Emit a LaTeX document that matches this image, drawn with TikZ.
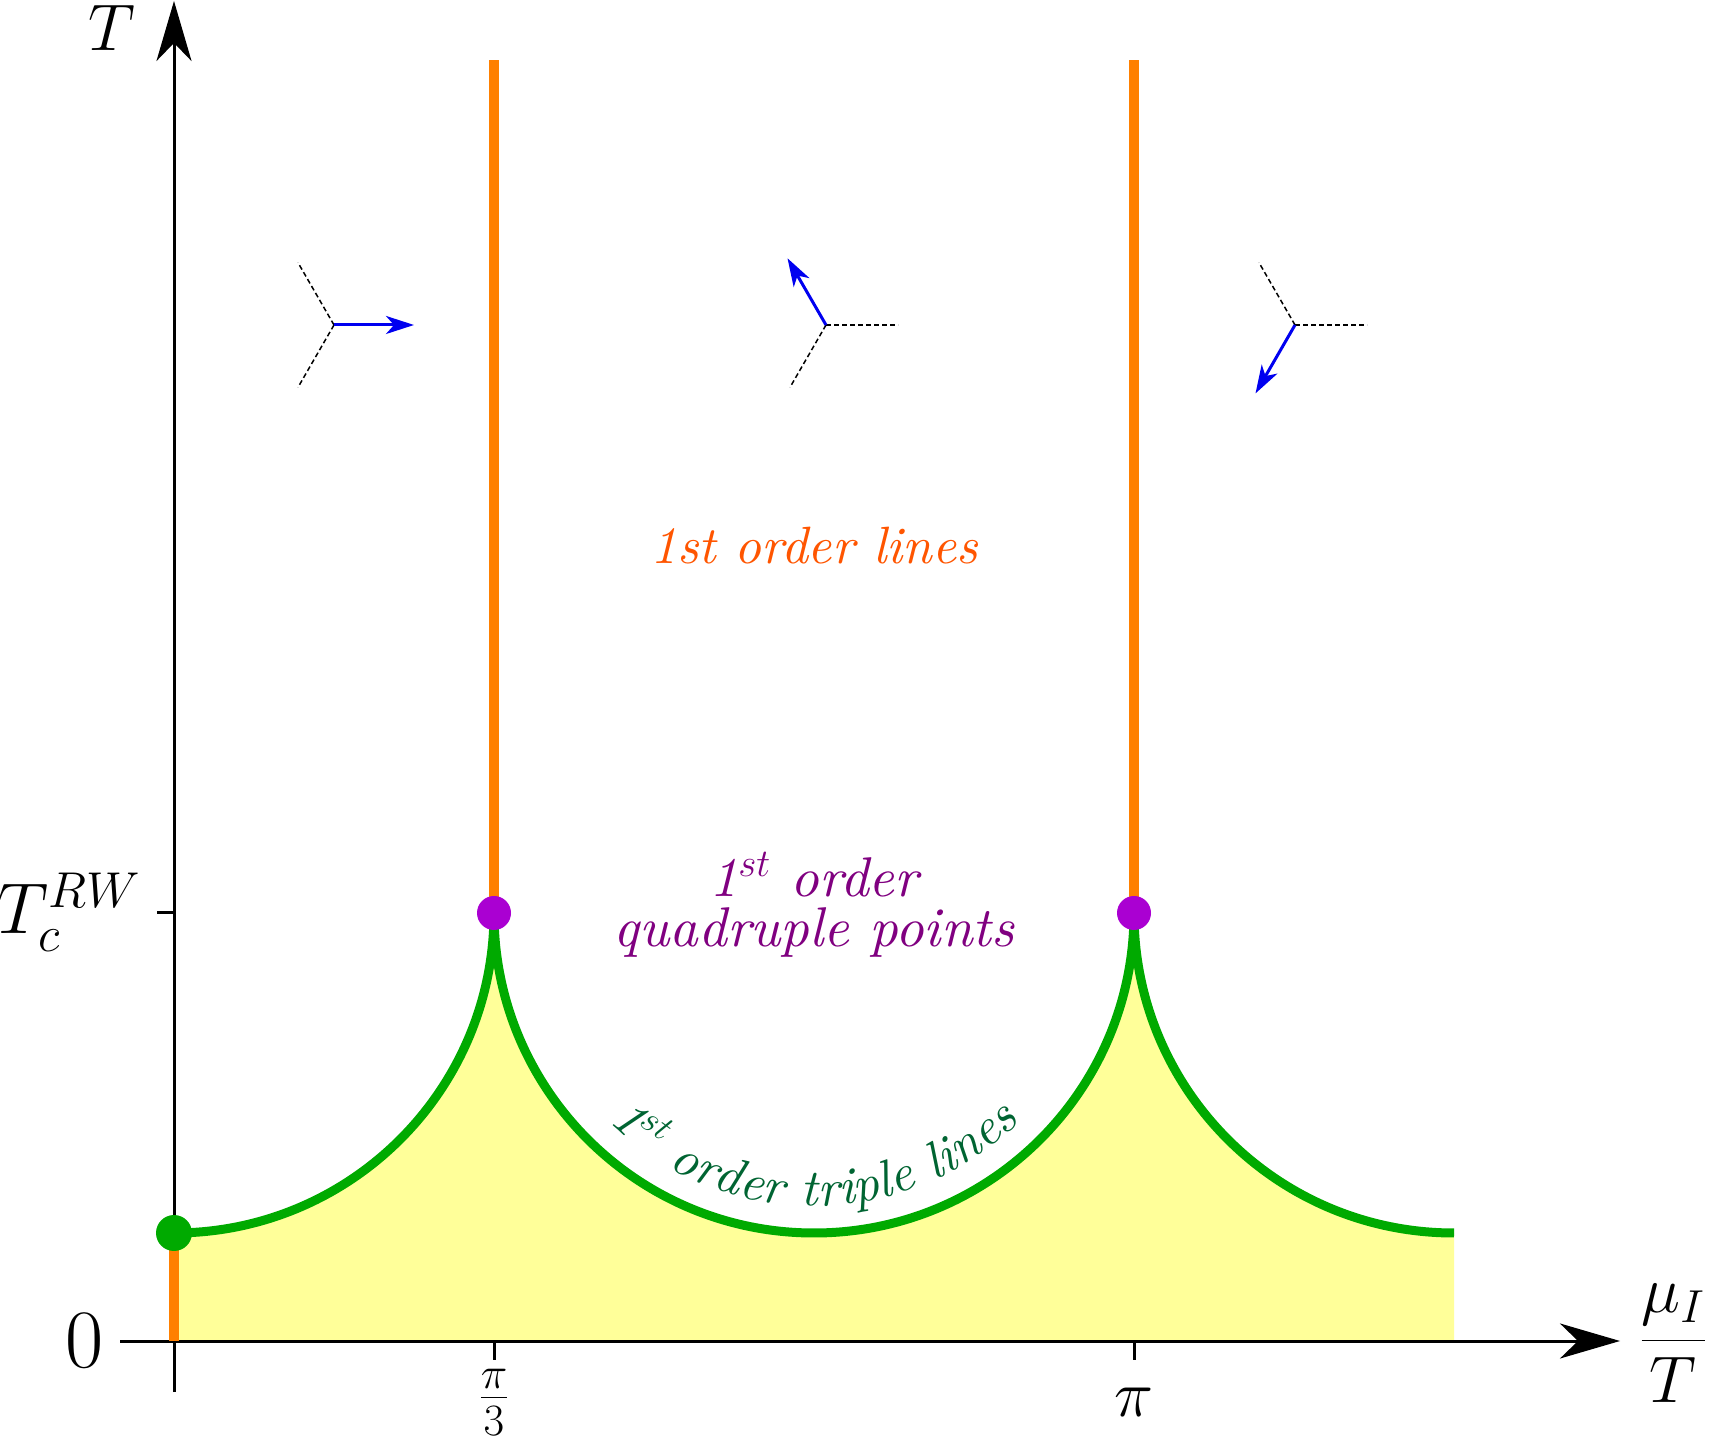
\RequirePackage{fix-cm}
\documentclass[tikz,border=0pt]{standalone}
\usepackage{fontspec}
\newfontface\lmtenit{lmroman10-italic.otf}
\usetikzlibrary{arrows.meta,decorations.text}
\definecolor{myorange}{RGB}{255,128,0}
\definecolor{txtorange}{RGB}{255,85,0}
\definecolor{mygreen}{RGB}{0,170,0}
\definecolor{dkgreen}{RGB}{0,100,50}
\definecolor{mypurple}{RGB}{170,0,210}
\definecolor{txtpurple}{RGB}{128,0,128}
\definecolor{myyellow}{RGB}{255,255,153}
\definecolor{myblue}{RGB}{0,0,240}
\begin{document}
\begin{tikzpicture}[x=1pt,y=1pt,
  axisline/.style={line width=3pt,-{Stealth[length=60pt,width=35pt,inset=18pt]}},
  tickline/.style={line width=3pt},
  orangeline/.style={line width=10pt,myorange},
  greenline/.style={line width=9pt,mygreen},
  dashline/.style={line width=1.5pt,dash pattern=on 5pt off 3pt},
  bluearrow/.style={line width=3pt,myblue,-{Stealth[length=28pt,width=18pt,inset=8pt]}},
  mathlbl/.style={font=\fontsize{66}{72}\selectfont,inner sep=0pt},
  phaselbl/.style={inner sep=0pt,align=center}
]
\useasboundingbox (0,0) rectangle (1718,1443);
% coordinates
\coordinate (O) at (174,102);
\coordinate (ybot) at (174,51);
\coordinate (ytop) at (174,1442);
\coordinate (xleft) at (120,102);
\coordinate (xright) at (1620,102);
\coordinate (G) at (174,210);
\coordinate (Q1) at (494,530);
\coordinate (Q2) at (1134,530);
\coordinate (Q1top) at (494,1383);
\coordinate (Q2top) at (1134,1383);
\coordinate (Rend) at (1454,210);
\coordinate (Rbot) at (1454,102);
\coordinate (tcL) at (157,530);
\coordinate (tcR) at (174,530);
\coordinate (t1a) at (494,102);
\coordinate (t1b) at (494,83);
\coordinate (t2a) at (1134,102);
\coordinate (t2b) at (1134,83);

% yellow region
\fill[myyellow] (O) -- (G) arc[start angle=-90,end angle=0,radius=320]
  arc[start angle=180,end angle=360,radius=320]
  arc[start angle=180,end angle=270,radius=320] -- (Rbot) -- cycle;

% axes
\draw[axisline] (xleft) -- (xright);
\draw[axisline] (ybot) -- (ytop);
\draw[tickline] (tcL) -- (tcR);
\draw[tickline] (t1a) -- (t1b);
\draw[tickline] (t2a) -- (t2b);

% orange lines
\draw[orangeline] (O) -- (G);
\draw[orangeline] (Q1) -- (Q1top);
\draw[orangeline] (Q2) -- (Q2top);

% green triple lines
\draw[greenline] (G) arc[start angle=-90,end angle=0,radius=320]
  arc[start angle=180,end angle=360,radius=320]
  arc[start angle=180,end angle=270,radius=320];

% dots
\fill[mygreen] (G) circle[radius=18];
\fill[mypurple] (Q1) circle[radius=17];
\fill[mypurple] (Q2) circle[radius=17];

% triads
\coordinate (c1) at (334,1118);
\coordinate (c2) at (826,1118);
\coordinate (c3) at (1295,1118);
\draw[dashline] (c1) -- ++(120:72);
\draw[dashline] (c1) -- ++(240:72);
\draw[bluearrow] (c1) -- ++(0:80);
\draw[dashline] (c2) -- ++(0:72);
\draw[dashline] (c2) -- ++(240:72);
\draw[bluearrow] (c2) -- ++(120:77);
\draw[dashline] (c3) -- ++(0:72);
\draw[dashline] (c3) -- ++(120:72);
\draw[bluearrow] (c3) -- ++(240:79);

% labels
\node[mathlbl] (Tlbl) at (112,1415) {$T$};
\node[mathlbl,font=\fontsize{72}{78}\selectfont] (Tclbl) at (69,531) {$T_c^{RW}$};
\node[mathlbl,font=\fontsize{83}{90}\selectfont] (zero) at (85,102) {$0$};
\node[mathlbl,font=\fontsize{64}{70}\selectfont] (pi3) at (494,41) {$\frac{\pi}{3}$};
\node[mathlbl] (pi) at (1134,41) {$\pi$};
\node[mathlbl] (mu) at (1673,100) {$\displaystyle\frac{\mu_I}{T}$};

\node[phaselbl,text=txtorange,font=\lmtenit\fontsize{52.5}{57}\selectfont] (first) at (814,897) {1st order lines};
\node[phaselbl,text=txtpurple,font=\lmtenit\fontsize{56}{56}\selectfont] (quad) at (814,538) {1$^{st}$ order\\[-6pt]quadruple points};

\path[decorate,decoration={text along path,text align=center,text color=dkgreen,
  text={|\lmtenit\fontsize{52}{56}\selectfont|1{$^{st}$} order triple lines}}]
  (814,530) ++(-145:293) arc[start angle=-145,end angle=-35,radius=293];
\end{tikzpicture}
\end{document}
